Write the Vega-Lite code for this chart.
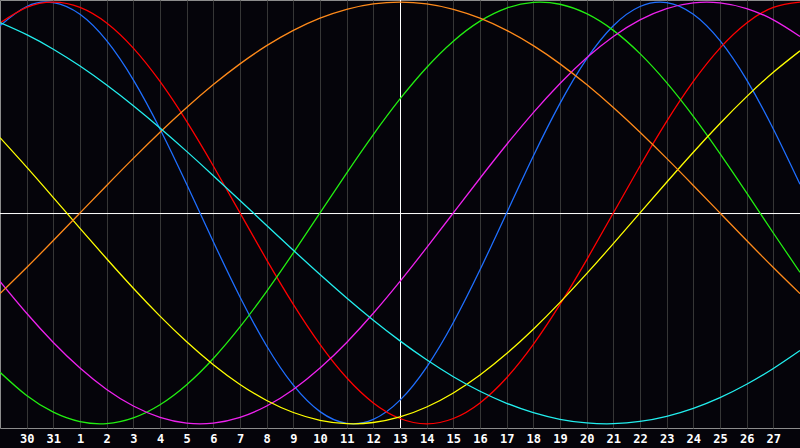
{
  "$schema": "https://vega.github.io/schema/vega-lite/v6.json",
  "width": 800,
  "height": 428,
  "autosize": {"type": "none"},
  "padding": {"top": 0, "left": 0, "right": 0, "bottom": 20},
  "background": "#05040a",
  "datasets": {
    "cycles": [
      {"s":"physical","t":-15,"v":0.8879},{"s":"physical","t":-14,"v":0.9791},{"s":"physical","t":-13,"v":0.9977},{"s":"physical","t":-12,"v":0.9423},{"s":"physical","t":-11,"v":0.8170},{"s":"physical","t":-10,"v":0.6311},{"s":"physical","t":-9,"v":0.3984},{"s":"physical","t":-8,"v":0.1362},{"s":"physical","t":-7,"v":-0.1362},{"s":"physical","t":-6,"v":-0.3984},{"s":"physical","t":-5,"v":-0.6311},{"s":"physical","t":-4,"v":-0.8170},{"s":"physical","t":-3,"v":-0.9423},{"s":"physical","t":-2,"v":-0.9977},{"s":"physical","t":-1,"v":-0.9791},{"s":"physical","t":0,"v":-0.8879},{"s":"physical","t":1,"v":-0.7308},{"s":"physical","t":2,"v":-0.5196},{"s":"physical","t":3,"v":-0.2698},{"s":"physical","t":4,"v":0},{"s":"physical","t":5,"v":0.2698},{"s":"physical","t":6,"v":0.5196},{"s":"physical","t":7,"v":0.7308},{"s":"physical","t":8,"v":0.8879},{"s":"physical","t":9,"v":0.9791},{"s":"physical","t":10,"v":0.9977},{"s":"physical","t":11,"v":0.9423},{"s":"physical","t":12,"v":0.8170},{"s":"physical","t":13,"v":0.6311},{"s":"physical","t":14,"v":0.3984},{"s":"physical","t":15,"v":0.1362},
      {"s":"emotional","t":-15,"v":0.9010},{"s":"emotional","t":-14,"v":0.9749},{"s":"emotional","t":-13,"v":1},{"s":"emotional","t":-12,"v":0.9749},{"s":"emotional","t":-11,"v":0.9010},{"s":"emotional","t":-10,"v":0.7818},{"s":"emotional","t":-9,"v":0.6235},{"s":"emotional","t":-8,"v":0.4339},{"s":"emotional","t":-7,"v":0.2225},{"s":"emotional","t":-6,"v":0},{"s":"emotional","t":-5,"v":-0.2225},{"s":"emotional","t":-4,"v":-0.4339},{"s":"emotional","t":-3,"v":-0.6235},{"s":"emotional","t":-2,"v":-0.7818},{"s":"emotional","t":-1,"v":-0.9010},{"s":"emotional","t":0,"v":-0.9749},{"s":"emotional","t":1,"v":-1},{"s":"emotional","t":2,"v":-0.9749},{"s":"emotional","t":3,"v":-0.9010},{"s":"emotional","t":4,"v":-0.7818},{"s":"emotional","t":5,"v":-0.6235},{"s":"emotional","t":6,"v":-0.4339},{"s":"emotional","t":7,"v":-0.2225},{"s":"emotional","t":8,"v":0},{"s":"emotional","t":9,"v":0.2225},{"s":"emotional","t":10,"v":0.4339},{"s":"emotional","t":11,"v":0.6235},{"s":"emotional","t":12,"v":0.7818},{"s":"emotional","t":13,"v":0.9010},{"s":"emotional","t":14,"v":0.9749},{"s":"emotional","t":15,"v":1},
      {"s":"intellectual","t":-15,"v":-0.7557},{"s":"intellectual","t":-14,"v":-0.8660},{"s":"intellectual","t":-13,"v":-0.9450},{"s":"intellectual","t":-12,"v":-0.9898},{"s":"intellectual","t":-11,"v":-0.9989},{"s":"intellectual","t":-10,"v":-0.9718},{"s":"intellectual","t":-9,"v":-0.9096},{"s":"intellectual","t":-8,"v":-0.8146},{"s":"intellectual","t":-7,"v":-0.6901},{"s":"intellectual","t":-6,"v":-0.5406},{"s":"intellectual","t":-5,"v":-0.3717},{"s":"intellectual","t":-4,"v":-0.1893},{"s":"intellectual","t":-3,"v":0},{"s":"intellectual","t":-2,"v":0.1893},{"s":"intellectual","t":-1,"v":0.3717},{"s":"intellectual","t":0,"v":0.5406},{"s":"intellectual","t":1,"v":0.6901},{"s":"intellectual","t":2,"v":0.8146},{"s":"intellectual","t":3,"v":0.9096},{"s":"intellectual","t":4,"v":0.9718},{"s":"intellectual","t":5,"v":0.9989},{"s":"intellectual","t":6,"v":0.9898},{"s":"intellectual","t":7,"v":0.9450},{"s":"intellectual","t":8,"v":0.8660},{"s":"intellectual","t":9,"v":0.7557},{"s":"intellectual","t":10,"v":0.6182},{"s":"intellectual","t":11,"v":0.4582},{"s":"intellectual","t":12,"v":0.2817},{"s":"intellectual","t":13,"v":0.0951},{"s":"intellectual","t":14,"v":-0.0951},{"s":"intellectual","t":15,"v":-0.2817},
      {"s":"intuitive","t":-15,"v":-0.3247},{"s":"intuitive","t":-14,"v":-0.4759},{"s":"intuitive","t":-13,"v":-0.6142},{"s":"intuitive","t":-12,"v":-0.7357},{"s":"intuitive","t":-11,"v":-0.8372},{"s":"intuitive","t":-10,"v":-0.9158},{"s":"intuitive","t":-9,"v":-0.9694},{"s":"intuitive","t":-8,"v":-0.9966},{"s":"intuitive","t":-7,"v":-0.9966},{"s":"intuitive","t":-6,"v":-0.9694},{"s":"intuitive","t":-5,"v":-0.9158},{"s":"intuitive","t":-4,"v":-0.8372},{"s":"intuitive","t":-3,"v":-0.7357},{"s":"intuitive","t":-2,"v":-0.6142},{"s":"intuitive","t":-1,"v":-0.4759},{"s":"intuitive","t":0,"v":-0.3247},{"s":"intuitive","t":1,"v":-0.1646},{"s":"intuitive","t":2,"v":0},{"s":"intuitive","t":3,"v":0.1646},{"s":"intuitive","t":4,"v":0.3247},{"s":"intuitive","t":5,"v":0.4759},{"s":"intuitive","t":6,"v":0.6142},{"s":"intuitive","t":7,"v":0.7357},{"s":"intuitive","t":8,"v":0.8372},{"s":"intuitive","t":9,"v":0.9158},{"s":"intuitive","t":10,"v":0.9694},{"s":"intuitive","t":11,"v":0.9966},{"s":"intuitive","t":12,"v":0.9966},{"s":"intuitive","t":13,"v":0.9694},{"s":"intuitive","t":14,"v":0.9158},{"s":"intuitive","t":15,"v":0.8372},
      {"s":"aesthetic","t":-15,"v":0.3572},{"s":"aesthetic","t":-14,"v":0.2174},{"s":"aesthetic","t":-13,"v":0.0730},{"s":"aesthetic","t":-12,"v":-0.0730},{"s":"aesthetic","t":-11,"v":-0.2174},{"s":"aesthetic","t":-10,"v":-0.3572},{"s":"aesthetic","t":-9,"v":-0.4894},{"s":"aesthetic","t":-8,"v":-0.6110},{"s":"aesthetic","t":-7,"v":-0.7198},{"s":"aesthetic","t":-6,"v":-0.8133},{"s":"aesthetic","t":-5,"v":-0.8894},{"s":"aesthetic","t":-4,"v":-0.9465},{"s":"aesthetic","t":-3,"v":-0.9834},{"s":"aesthetic","t":-2,"v":-0.9993},{"s":"aesthetic","t":-1,"v":-0.9940},{"s":"aesthetic","t":0,"v":-0.9675},{"s":"aesthetic","t":1,"v":-0.9204},{"s":"aesthetic","t":2,"v":-0.8537},{"s":"aesthetic","t":3,"v":-0.7687},{"s":"aesthetic","t":4,"v":-0.6671},{"s":"aesthetic","t":5,"v":-0.5517},{"s":"aesthetic","t":6,"v":-0.4244},{"s":"aesthetic","t":7,"v":-0.2881},{"s":"aesthetic","t":8,"v":-0.1456},{"s":"aesthetic","t":9,"v":0},{"s":"aesthetic","t":10,"v":0.1456},{"s":"aesthetic","t":11,"v":0.2881},{"s":"aesthetic","t":12,"v":0.4244},{"s":"aesthetic","t":13,"v":0.5517},{"s":"aesthetic","t":14,"v":0.6671},{"s":"aesthetic","t":15,"v":0.7687},
      {"s":"awareness","t":-15,"v":-0.3827},{"s":"awareness","t":-14,"v":-0.2588},{"s":"awareness","t":-13,"v":-0.1305},{"s":"awareness","t":-12,"v":0},{"s":"awareness","t":-11,"v":0.1305},{"s":"awareness","t":-10,"v":0.2588},{"s":"awareness","t":-9,"v":0.3827},{"s":"awareness","t":-8,"v":0.5},{"s":"awareness","t":-7,"v":0.6088},{"s":"awareness","t":-6,"v":0.7071},{"s":"awareness","t":-5,"v":0.7934},{"s":"awareness","t":-4,"v":0.8660},{"s":"awareness","t":-3,"v":0.9239},{"s":"awareness","t":-2,"v":0.9659},{"s":"awareness","t":-1,"v":0.9914},{"s":"awareness","t":0,"v":1},{"s":"awareness","t":1,"v":0.9914},{"s":"awareness","t":2,"v":0.9659},{"s":"awareness","t":3,"v":0.9239},{"s":"awareness","t":4,"v":0.8660},{"s":"awareness","t":5,"v":0.7934},{"s":"awareness","t":6,"v":0.7071},{"s":"awareness","t":7,"v":0.6088},{"s":"awareness","t":8,"v":0.5},{"s":"awareness","t":9,"v":0.3827},{"s":"awareness","t":10,"v":0.2588},{"s":"awareness","t":11,"v":0.1305},{"s":"awareness","t":12,"v":0},{"s":"awareness","t":13,"v":-0.1305},{"s":"awareness","t":14,"v":-0.2588},{"s":"awareness","t":15,"v":-0.3827},
      {"s":"spiritual","t":-15,"v":0.9028},{"s":"spiritual","t":-14,"v":0.8456},{"s":"spiritual","t":-13,"v":0.7767},{"s":"spiritual","t":-12,"v":0.6966},{"s":"spiritual","t":-11,"v":0.6068},{"s":"spiritual","t":-10,"v":0.5086},{"s":"spiritual","t":-9,"v":0.4031},{"s":"spiritual","t":-8,"v":0.2920},{"s":"spiritual","t":-7,"v":0.1769},{"s":"spiritual","t":-6,"v":0.0592},{"s":"spiritual","t":-5,"v":-0.0592},{"s":"spiritual","t":-4,"v":-0.1769},{"s":"spiritual","t":-3,"v":-0.2920},{"s":"spiritual","t":-2,"v":-0.4031},{"s":"spiritual","t":-1,"v":-0.5086},{"s":"spiritual","t":0,"v":-0.6068},{"s":"spiritual","t":1,"v":-0.6966},{"s":"spiritual","t":2,"v":-0.7767},{"s":"spiritual","t":3,"v":-0.8456},{"s":"spiritual","t":4,"v":-0.9028},{"s":"spiritual","t":5,"v":-0.9473},{"s":"spiritual","t":6,"v":-0.9786},{"s":"spiritual","t":7,"v":-0.9960},{"s":"spiritual","t":8,"v":-0.9996},{"s":"spiritual","t":9,"v":-0.9890},{"s":"spiritual","t":10,"v":-0.9646},{"s":"spiritual","t":11,"v":-0.9267},{"s":"spiritual","t":12,"v":-0.8758},{"s":"spiritual","t":13,"v":-0.8125},{"s":"spiritual","t":14,"v":-0.7378},{"s":"spiritual","t":15,"v":-0.6527}
    ]
  },
  "encoding": {
    "x": {
      "field": "t",
      "type": "quantitative",
      "scale": {"domain": [-15, 15], "nice": false, "zero": false},
      "axis": {
        "title": null,
        "values": [-14,-13,-12,-11,-10,-9,-8,-7,-6,-5,-4,-3,-2,-1,0,1,2,3,4,5,6,7,8,9,10,11,12,13,14],
        "labelExpr": "datum.value < -12 ? datum.value + 44 : datum.value + 13",
        "grid": true,
        "gridColor": "#363636",
        "gridWidth": 1,
        "domain": false,
        "ticks": false,
        "tickSize": 0,
        "labelPadding": 5,
        "labelBaseline": "top",
        "labelColor": "#ffffff",
        "labelFont": "DejaVu Sans Mono",
        "labelFontWeight": "bold",
        "labelFontSize": 12
      }
    },
    "y": {
      "field": "v",
      "type": "quantitative",
      "scale": {"domain": [-1.02, 1.01], "nice": false, "zero": false},
      "axis": null
    }
  },
  "layer": [
    {
      "data": {"values": [{"v": 0}]},
      "mark": {"type": "rule", "color": "#ffffff", "strokeWidth": 1, "yOffset": 0.6},
      "encoding": {"x": null}
    },
    {
      "data": {"values": [{"t": 0}]},
      "mark": {"type": "rule", "color": "#ffffff", "strokeWidth": 1, "xOffset": 0.5},
      "encoding": {"y": null}
    },
    {
      "data": {"name": "cycles"},
      "mark": {"type": "line", "interpolate": "natural", "strokeWidth": 1.3, "clip": true},
      "encoding": {
        "color": {
          "field": "s",
          "type": "nominal",
          "legend": null,
          "scale": {
            "domain": ["spiritual", "awareness", "aesthetic", "intuitive", "intellectual", "physical", "emotional"],
            "range": ["#22eeee", "#ff8a1a", "#ffff00", "#ee22ee", "#22ee11", "#1f6fff", "#ff0000"]
          }
        },
        "order": {"value": 0}
      }
    }
  ],
  "config": {
    "view": {"stroke": "#8c8c8c", "strokeWidth": 1, "fill": "#05040a"}
  }
}
